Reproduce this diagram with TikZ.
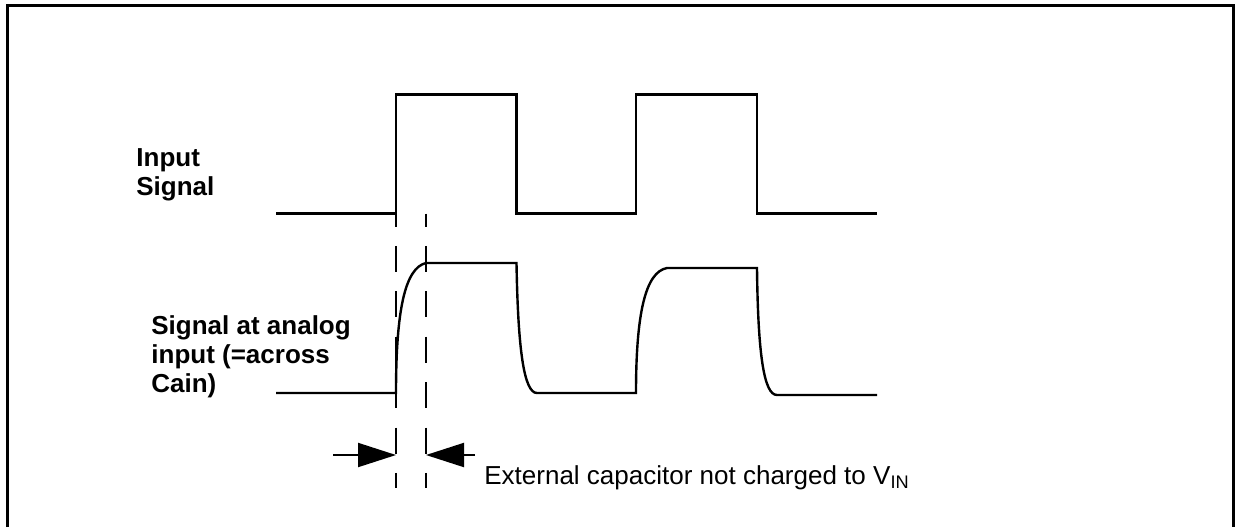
\documentclass[tikz,border=0pt]{standalone}
\usepackage{fontspec}
\setmainfont{Liberation Sans}
\usetikzlibrary{arrows.meta,positioning}

\begin{document}
\begin{tikzpicture}[x=0.5pt, y=-0.5pt, every node/.style={font=\fontsize{13}{14.6}\selectfont}]
        \tikzstyle{frame} = [line width=1.5pt]
        \tikzstyle{wave} = [line width=1.2pt, line join=miter]
        \tikzstyle{guide} = [line width=1pt, dash pattern=on 13pt off 9.7pt, dash phase=6.5pt]
        \tikzstyle{arrow} = [-{Triangle[length=19pt, width=12pt]}, line width=1pt]
        \tikzstyle{caption} = [font=\bfseries\fontsize{13}{14.6}\selectfont, align=left, inner sep=0pt, anchor=north west]

        \useasboundingbox (0,0) rectangle (1239,527);
        \draw [frame] (7,527) -- (7,5) -- (1233,5) -- (1233,527);

        % edges of the short charging time
        \coordinate (t1) at (396,213.5);
        \coordinate (t2) at (426,213.5);

        \node (insig) [caption] at (136,148) {Input\\Signal};
        \node (ansig) [caption] at (151,315) {Signal at analog\\input (=across\\Cain)};

        % input square wave
        \draw [wave] (276,213.5) -- (t1) -- (396,94.5) -- (516.5,94.5) -- (516.5,213.5) -- (636,213.5) -- (636,94.5) -- (757,94.5) -- (757,213.5) -- (877,213.5);

        % voltage on the capacitor
        \draw [wave] (276,393) -- (396,393) .. controls (396,310) and (405,268) .. (426,263) -- (516.5,263)
            .. controls (518,350) and (524,393) .. (537,393) -- (636,393)
            .. controls (636,315) and (645,272) .. (667,268) -- (757,268)
            .. controls (758,355) and (764,395) .. (777,395) -- (877,395);

        \coordinate (g1) at (396,488);
        \coordinate (g2) at (426,488);
        \draw [guide] (t1) -- (g1);
        \draw [guide] (t2) -- (g2);

        \coordinate (lefttail) at (333,455);
        \coordinate (righttail) at (475,455);
        \draw [arrow] (lefttail) -- (lefttail -| t1);
        \draw [arrow] (righttail) -- (righttail -| t2);

        \node (note) [anchor=base west, inner sep=0pt] at (484,484) {External capacitor not charged to V\textsubscript{IN}};
\end{tikzpicture}
\end{document}
